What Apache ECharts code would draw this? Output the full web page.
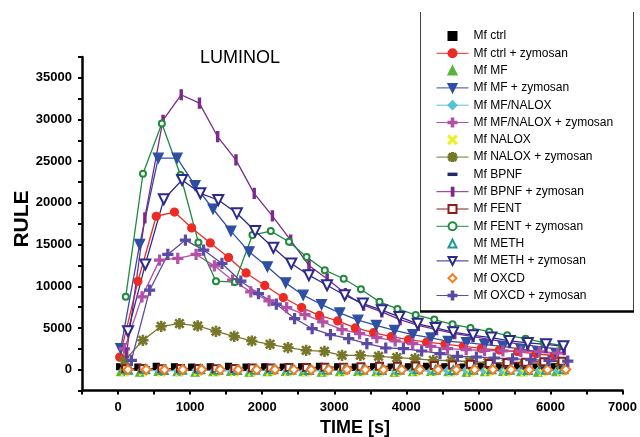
<!DOCTYPE html>
<html><head><meta charset="utf-8">
<script src="https://cdn.jsdelivr.net/npm/echarts@6/dist/echarts.min.js"></script>
<style>html,body{margin:0;padding:0;background:#fff}#c{width:640px;height:437px}</style>
</head><body><div id="c"></div>
<script>
// Time arrays (s) per drug group
var tCtrl = [23,276,530,783,1022,1280,1533,1777,2036,2293,2547,2795,3048,3292,3546,3790,4030,4282,4536,4790,5040,5290,5545,5800,6055];
var tMF = [37,300,558,820,1069,1318,1566,1819,2072,2326,2569,2823,3076,3329,3583,3836,4089,4342,4581,4834,5088,5341,5590,5824,6077];
var tMFNALOX = [90,332,576,829,1083,1336,1589,1842,2095,2340,2593,2841,3108,3352,3591,3845,4089,4340,4572,4830,5085,5340,5590,5845,6100];
var tNALOX = [93,345,599,852,1105,1359,1612,1856,2109,2358,2610,2864,3108,3362,3615,3867,4121,4374,4627,4880,5133,5386,5639,5892,6145];
var tBPNF = [119,371,623,875,1128,1381,1635,1888,2141,2394,2648,2900,3153,3406,3659,3912,4165,4418,4671,4924,5177,5430,5683,5936,6189];
var tFENT = [107,346,608,866,1115,1359,1621,1865,2119,2372,2616,2869,3131,3370,3628,3877,4130,4388,4641,4890,5150,5400,5655,5907,6160];
var tMETH = [138,378,635,889,1142,1391,1649,1902,2155,2404,2648,2900,3145,3398,3660,3905,4157,4406,4650,4927,5180,5434,5686,5939,6180];
var tOXCD = [185,438,691,935,1188,1442,1704,1948,2196,2450,2693,2947,3200,3453,3715,3960,4213,4467,4710,4972,5220,5475,5728,5980,6240];
var tOXCDc = [138,392,645,898,1160,1418,1667,1925,2178,2440,2680,2924,3177,3431,3683,3936,4189,4442,4695,4948,5201,5454,5707,5960,6213];

// RULE values
var vCtrl = [350,300,400,350,300,350,400,300,350,300,350,400,350,300,350,300,350,400,350,300,350,300,350,300,350];
var vCtrlZ = [1500,10600,18400,18900,17000,15200,13450,11600,10100,8650,7450,6500,5840,5000,4450,3950,3600,3300,3050,2800,2550,2350,2150,1900,1700];
var vMF = [-250,-300,-200,-250,-300,-250,-200,-300,-250,-200,-250,-300,-250,-200,-250,-300,-250,-200,-250,-300,-250,-200,-250,-300,-250];
var vMFZ = [2520,15020,25360,25360,22070,19270,16620,14130,12330,10410,8930,7810,6800,5930,5320,4720,4200,3800,3400,3250,3000,2800,2450,2150,1950];
var vMFNALOX = [-100,-50,-150,-100,-50,-100,-150,-100,-50,-100,-150,-100,-50,-100,-100,-50,-100,-150,-100,-50,-100,-150,-100,-50,-100];
var vMFNALOXZ = [2500,8730,13140,13340,13820,12450,10730,9330,8250,7450,6610,5720,4810,4330,3850,3450,3120,2800,2520,2400,2300,2250,2200,2150,2000];
var vNALOX = [-350,-300,-400,-350,-300,-350,-400,-350,-300,-350,-400,-350,-300,-350,-400,-350,-300,-350,-400,-350,-300,-350,-400,-350,-300];
var vNALOXZ = [1120,3520,5200,5530,5240,4600,4000,3440,3040,2640,2320,2200,1720,1720,1600,1440,1320,1120,1100,950,850,750,650,600,550];
var vBPNF = [200,250,150,200,250,200,150,200,250,200,150,200,250,200,150,200,250,200,150,200,250,200,150,200,250];
var vBPNFZ = [2000,18200,29900,32970,31970,27960,25160,21150,18450,15540,12500,10900,9130,7730,6930,6010,5320,4810,4330,3950,3600,3250,2950,2650,2400];
var vFENT = [100,150,100,150,150,100,150,200,200,250,250,300,300,350,400,400,450,500,550,650,750,850,900,950,1000];
var vFENTZ = [8730,23500,29520,23350,15260,10610,10500,16140,16620,15340,13500,11930,10900,9650,8130,7290,6570,6010,5440,5000,4550,4120,3720,3240,2900];
var vMETH = [0,50,-50,0,50,0,-50,0,50,0,-50,0,50,0,-50,0,50,0,-50,0,50,0,-50,0,50];
var vMETHZ = [4600,12620,20430,22750,21150,20350,18750,16620,14620,12740,11330,10130,8930,7930,7130,6330,5500,5000,4500,4120,3850,3440,3200,3040,2800];
var vOXCD = [0,20,-20,0,20,0,-20,0,20,0,-20,0,20,0,-20,0,20,0,-20,0,20,0,-20,0,20];
var vOXCDZ = [1120,9530,13820,15540,14340,12740,10610,9130,7850,6130,4930,4210,3720,3120,2600,2520,2240,1920,1600,1520,1400,1300,1200,1100,1030];

var xTicks = [0,1000,2000,3000,4000,5000,6000,7000];
var yTicks = [0,5000,10000,15000,20000,25000,30000,35000];

function pairs(t, v){ return t.map(function(x,i){ return [x, v[i]]; }); }

var P_PLUS = 'path://M0,0M10,10M4,0H6V4H10V6H6V10H4V6H0V4H4Z';
var P_CROSS = 'path://M1,0L5,4L9,0L10,1L6,5L10,9L9,10L5,6L1,10L0,9L4,5L0,1Z';
var P_AST = 'path://M4.3,0H5.7V3.3L8.3,0.7L9.3,1.7L6.7,4.3H10V5.7H6.7L9.3,8.3L8.3,9.3L5.7,6.7V10H4.3V6.7L1.7,9.3L0.7,8.3L3.3,5.7H0V4.3H3.3L0.7,1.7L1.7,0.7L4.3,3.3Z';
var P_BAR = 'path://M0,0M10,10M4,0H6.2V10H4Z';
var P_DASH = 'path://M0,0M10,10M0,4H10V5.8H0Z';

function S(name, t, v, color, symbol, size, opts){
  opts = opts || {};
  return {
    name: name, type: 'line', data: pairs(t, v),
    symbol: symbol, symbolSize: size, symbolRotate: opts.rot || 0,
    showAllSymbol: true,
    itemStyle: {color: color, borderWidth: opts.bw || 1.2, borderColor: color},
    lineStyle: {color: color, width: 1.3, opacity: opts.noLine ? 0 : 1},
    emphasis: {disabled: true},
    z: 2
  };
}

var series = [
  S('Mf ctrl', tCtrl, vCtrl, '#000000', 'rect', 6, {noLine:true}),
  S('Mf ctrl + zymosan', tCtrl, vCtrlZ, '#ee2a24', 'circle', 8),
  S('Mf MF', tMF, vMF, '#58b43a', 'triangle', 8, {noLine:true}),
  S('Mf MF + zymosan', tMF, vMFZ, '#2e4fa3', 'triangle', 10, {rot:180}),
  S('Mf MF/NALOX', tMFNALOX, vMFNALOX, '#56c1da', 'diamond', 8),
  S('Mf MF/NALOX + zymosan', tMFNALOX, vMFNALOXZ, '#b34fa6', P_PLUS, 10),
  S('Mf NALOX', tNALOX, vNALOX, '#eeee22', P_CROSS, 7, {noLine:true}),
  S('Mf NALOX + zymosan', tNALOX, vNALOXZ, '#77772a', P_AST, 10),
  S('Mf BPNF', tBPNF, vBPNF, '#1f2a6b', P_DASH, 9, {noLine:true}),
  S('Mf BPNF + zymosan', tBPNF, vBPNFZ, '#7b2a8c', P_BAR, 10),
  S('Mf FENT', tFENT, vFENT, '#8b1a1a', 'emptyRect', 7),
  S('Mf FENT + zymosan', tFENT, vFENTZ, '#1f8a3c', 'emptyCircle', 6),
  S('Mf METH', tMETH, vMETH, '#1a9a9a', 'emptyTriangle', 8, {noLine:true}),
  S('Mf METH + zymosan', tMETH, vMETHZ, '#2d2a8c', 'emptyTriangle', 10, {rot:180}),
  S('Mf OXCD', tOXCDc, vOXCD, '#f47b20', 'emptyDiamond', 9, {noLine:true, bw:1.6}),
  S('Mf OXCD + zymosan', tOXCD, vOXCDZ, '#5b4aa3', P_PLUS, 10)
];

var FONT = '"Liberation Sans", Arial, sans-serif';
var chart = echarts.init(document.getElementById('c'), null, {renderer: 'canvas'});
chart.setOption({
  animation: false,
  backgroundColor: '#fff',
  title: {text: 'LUMINOL', left: 195, top: 44, textStyle: {fontFamily: FONT, fontSize: 18, fontWeight: 'normal', color: '#000'}},
  grid: {left: 82, right: 15, top: 57, bottom: 46.5, containLabel: false},
  xAxis: {
    type: 'value', min: -500, max: 7000, interval: 500,
    splitLine: {show: false},
    axisLine: {onZero: false, lineStyle: {color: '#000', width: 2.5}},
    axisTick: {inside: false, length: 4, lineStyle: {color: '#000', width: 2}},
    axisLabel: {margin: 10, fontFamily: FONT, fontSize: 13, fontWeight: 'bold', color: '#000',
      formatter: function(v){ return xTicks.indexOf(v) >= 0 ? String(v) : ''; }}
  },
  yAxis: {
    type: 'value', min: -2500, max: 37500, interval: 2500,
    splitLine: {show: false},
    axisLine: {onZero: false, lineStyle: {color: '#000', width: 2.5}},
    axisTick: {inside: false, length: 4, lineStyle: {color: '#000', width: 2}},
    axisLabel: {margin: 10, fontFamily: FONT, fontSize: 13, fontWeight: 'bold', color: '#000',
      formatter: function(v){ return yTicks.indexOf(v) >= 0 ? String(v) : ''; }}
  },
  legend: {
    orient: 'vertical', left: 436, top: 30, padding: 0,
    itemWidth: 32, itemHeight: 10, itemGap: 5.3,
    lineStyle: {width: 1},
    textStyle: {fontFamily: FONT, fontSize: 12, color: '#000', lineHeight: 12},
    selectedMode: false,
    data: series.map(function(s){ return s.name; })
  },
  graphic: [
    {type: 'polyline', silent: true, shape: {points: [[420.5,12],[420.5,311.5],[633.5,311.5],[633.5,12]]},
      style: {stroke: '#444', lineWidth: 1, fill: null}},
    {type: 'line', silent: true, shape: {x1: 420, y1: 311.5, x2: 634, y2: 311.5}, style: {stroke: '#000', lineWidth: 2.5}},
    {type: 'text', silent: true, x: 22, y: 219, rotation: Math.PI/2,
      style: {text: 'RULE', font: 'bold 21px ' + FONT, fill: '#000', textAlign: 'center', textVerticalAlign: 'middle'}},
    {type: 'text', silent: true, x: 355, y: 428,
      style: {text: 'TIME [s]', font: 'bold 18px ' + FONT, fill: '#000', textAlign: 'center', textVerticalAlign: 'middle'}}
  ],
  series: series
});
</script></body></html>
